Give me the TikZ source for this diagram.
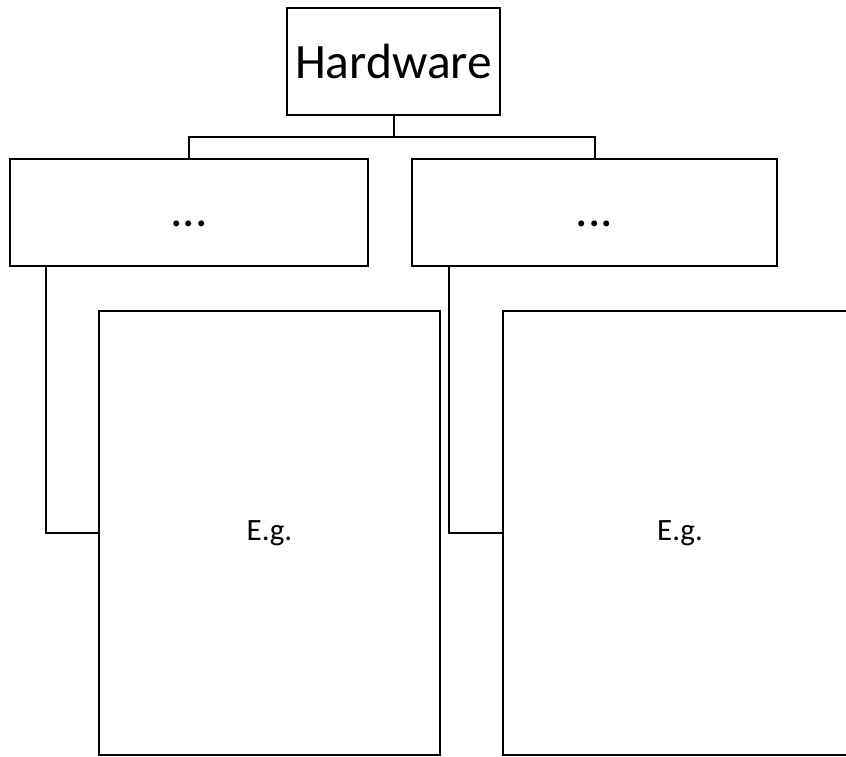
\documentclass[tikz,border=0pt]{standalone}
\usepackage{fontspec}
\setmainfont{Carlito}
\begin{document}
\begin{tikzpicture}[x=1pt,y=-1pt,
  box/.style={draw,line width=2pt,inner sep=0pt,fill=white},
  link/.style={draw,line width=2pt}]
\useasboundingbox (0,0) rectangle (846,756);
\clip (0,0) rectangle (846,756);
\node[box,minimum width=213pt,minimum height=107pt,font=\fontsize{49.5}{50}\selectfont] (hw) at (393.5,61.5) {Hardware};
\node[box,minimum width=358pt,minimum height=107pt,font=\fontsize{49.5}{50}\selectfont] (d1) at (189,212.5) {\smash{\raisebox{-14pt}{...}}};
\node[box,minimum width=365pt,minimum height=107pt,font=\fontsize{49.5}{50}\selectfont] (d2) at (594.5,212.5) {\smash{\raisebox{-14pt}{...}}};
\node[box,minimum width=341pt,minimum height=444pt,font=\fontsize{31}{32}\selectfont] (e1) at (269.5,533) {E.g.};
\node[box,minimum width=354pt,minimum height=444pt,font=\fontsize{31}{32}\selectfont] (e2) at (680,533) {E.g.};
\coordinate (j) at (393.5,137);
\coordinate (c1) at (46,300);
\coordinate (c2) at (449,300);
\draw[link] (hw.south) -- (j);
\draw[link] (d1.north) |- (j) -| (d2.north);
\draw[link] (d1.south -| c1) |- (e1.west);
\draw[link] (d2.south -| c2) |- (e2.west);
\end{tikzpicture}
\end{document}
